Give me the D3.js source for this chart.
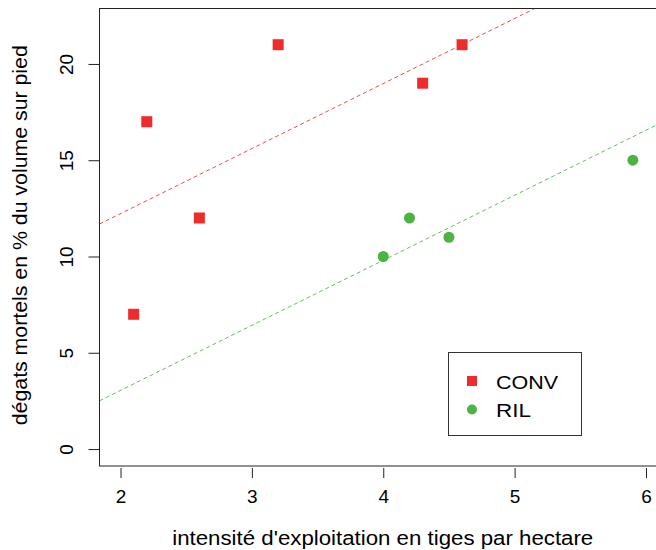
<!DOCTYPE html>
<html><head><meta charset="utf-8">
<script src="https://cdn.jsdelivr.net/npm/d3@7"></script>
<style>html,body{margin:0;padding:0;background:#fff;}svg{display:block;font-family:"Liberation Sans",Arial,sans-serif;}</style>
</head><body>
<script>
// Data
const convX = [2.1, 2.2, 2.6, 3.2, 4.3, 4.6];
const convY = [7, 17, 12, 21, 19, 21];
const rilX = [4.0, 4.2, 4.5, 5.9];
const rilY = [10, 12, 11, 15];
// fitted lines (common slope)
const fitSlope = [3.378, 3.378];
const fitIntercept = [5.47, -3.71];
const seriesNames = ["CONV", "RIL"];
const xTicks = [2, 3, 4, 5, 6];
const yTicks = [0, 5, 10, 15, 20];
const xTitle = "intensité d'exploitation en tiges par hectare";
const yTitle = "dégats mortels en % du volume sur pied";

const W = 656, H = 550;
const pL = 99.5, pR = 667, pT = 8.5, pB = 466;
const red = "#EE2C2C", green = "#4DB342";
const FONT = "Liberation Sans, Arial, sans-serif";

const svg = d3.select("body").append("svg").attr("width", W).attr("height", H);
svg.append("rect").attr("width", W).attr("height", H).attr("fill", "#fff");

const x = d3.scaleLinear().domain([1.84, 6.16]).range([pL, pR]);
const y = d3.scaleLinear().domain([-0.88, 22.88]).range([pB, pT]);

svg.append("clipPath").attr("id", "clip").append("rect")
  .attr("x", pL).attr("y", pT).attr("width", pR - pL).attr("height", pB - pT);

// regression lines
const colors = [red, green];
const lineG = svg.append("g").attr("clip-path", "url(#clip)");
fitSlope.forEach((b, i) => {
  const a = fitIntercept[i];
  const [x0, x1] = x.domain();
  lineG.append("line")
    .attr("x1", x(x0)).attr("y1", y(a + b * x0))
    .attr("x2", x(x1)).attr("y2", y(a + b * x1))
    .attr("stroke", colors[i]).attr("stroke-width", 1)
    .attr("stroke-dasharray", "4,3").attr("opacity", 0.85);
});

// frame
svg.append("rect").attr("x", pL).attr("y", pT).attr("width", pR - pL).attr("height", pB - pT)
  .attr("fill", "none").attr("stroke", "#222").attr("stroke-width", 1);

// axes
const xAxis = d3.axisBottom(x).tickValues(xTicks).tickSize(10).tickPadding(12).tickFormat(d3.format("d"));
const gx = svg.append("g").attr("transform", `translate(0,${pB + 2})`).call(xAxis);
gx.select(".domain").remove();
gx.selectAll("line").attr("stroke", "#222");
gx.selectAll("text").attr("font-size", 19).attr("fill", "#000").attr("font-family", FONT);

const yAxis = d3.axisLeft(y).tickValues(yTicks).tickSize(11).tickFormat(d3.format("d"));
const gy = svg.append("g").attr("transform", `translate(${pL},0)`).call(yAxis);
gy.select(".domain").remove();
gy.selectAll("line").attr("stroke", "#222");
gy.selectAll("text").attr("font-size", 19).attr("fill", "#000")
  .attr("font-family", FONT)
  .attr("text-anchor", "middle").attr("dy", null)
  .attr("x", null)
  .attr("transform", "translate(-33,0) rotate(-90)")
  .attr("y", 0).attr("dominant-baseline", "central");

// titles
svg.append("text").attr("x", (pL + pR) / 2 - 0.5).attr("y", 545)
  .attr("text-anchor", "middle").attr("font-size", 20)
  .attr("textLength", 421).attr("lengthAdjust", "spacingAndGlyphs").text(xTitle);
svg.append("text").attr("transform", `translate(27,${(pT + pB) / 2 - 2}) rotate(-90)`)
  .attr("text-anchor", "middle").attr("font-size", 20)
  .attr("textLength", 380).attr("lengthAdjust", "spacingAndGlyphs").text(yTitle);

// points
svg.append("g").selectAll("rect").data(convX.map((v, i) => [v, convY[i]])).join("rect")
  .attr("x", d => x(d[0]) - 5.5).attr("y", d => y(d[1]) - 5.5)
  .attr("width", 11).attr("height", 11).attr("fill", red);
svg.append("g").selectAll("circle").data(rilX.map((v, i) => [v, rilY[i]])).join("circle")
  .attr("cx", d => x(d[0])).attr("cy", d => y(d[1])).attr("r", 5.5).attr("fill", green);

// legend
const legendLen = [62, 35];
const lg = svg.append("g");
lg.append("rect").attr("x", 448.5).attr("y", 352.5).attr("width", 133).attr("height", 83)
  .attr("fill", "#fff").attr("stroke", "#333").attr("stroke-width", 1);
lg.append("rect").attr("x", 467).attr("y", 376).attr("width", 10).attr("height", 10).attr("fill", red);
lg.append("circle").attr("cx", 472).attr("cy", 409.5).attr("r", 5).attr("fill", green);
seriesNames.forEach((n, i) => {
  lg.append("text").attr("x", 496).attr("y", 382 + i * 28.5).attr("dominant-baseline", "central")
    .attr("font-size", 19).attr("textLength", legendLen[i]).attr("lengthAdjust", "spacingAndGlyphs").text(n);
});
</script>
</body></html>
